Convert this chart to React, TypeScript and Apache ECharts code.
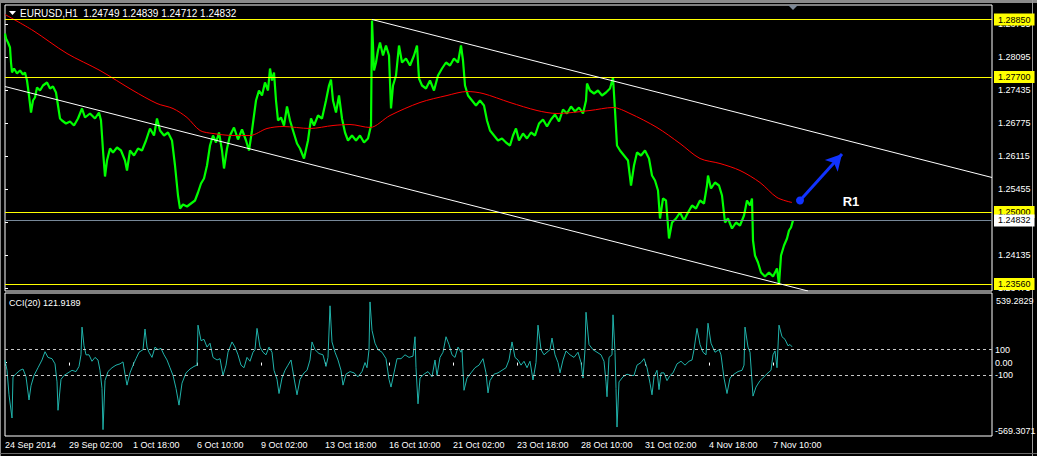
import React, { useEffect, useRef } from "react";
import * as echarts from "echarts";

// ---------- texts ----------
const symbolTitle = "EURUSD,H1  1.24749 1.24839 1.24712 1.24832";
const cciTitle = "CCI(20) 121.9189";
const annotationText = "R1";

// ---------- axes ----------
const timeLabels = [
  "24 Sep 2014", "29 Sep 02:00", "1 Oct 18:00", "6 Oct 10:00", "9 Oct 02:00",
  "13 Oct 18:00", "16 Oct 10:00", "21 Oct 02:00", "23 Oct 18:00", "28 Oct 10:00",
  "31 Oct 02:00", "4 Nov 18:00", "7 Nov 10:00",
];
const barsPerLabel = 64;
const lastBar = 987;
const priceMin = 1.2342;
const priceMax = 1.2914;
const priceTicks = [1.28755, 1.28095, 1.27435, 1.26775, 1.26115, 1.25455, 1.24795, 1.24135, 1.23475];
const levelLines = [1.2885, 1.277, 1.25, 1.2356];
const bidPrice = 1.24832;
const cciMax = 539.2829;
const cciMin = -569.3071;
const cciTicks = [100, 0, -100];
const cciLevels = [100, -100];

// ---------- price (bar index, price) ----------
const pricePath: [number, number][] = [
  [0, 1.2857], [1, 1.2847], [3, 1.2839], [5, 1.2829], [6, 1.2799], [7, 1.2779], [9, 1.2787], [12, 1.2777],
  [15, 1.2783], [18, 1.2775], [20, 1.2779], [22, 1.2763], [24, 1.2733], [26, 1.2699], [28, 1.2723], [30, 1.2729],
  [32, 1.2749], [35, 1.2743], [38, 1.2753], [42, 1.2759], [45, 1.2747], [48, 1.2751], [51, 1.2739], [53, 1.2713],
  [55, 1.2687], [57, 1.2683], [61, 1.2677], [65, 1.2681], [69, 1.2673], [73, 1.2687], [77, 1.2707], [80, 1.2689],
  [85, 1.2697], [90, 1.2687], [94, 1.2699], [96, 1.2683], [98, 1.2623], [100, 1.2571], [102, 1.2603], [105, 1.2627],
  [108, 1.2619], [112, 1.2629], [116, 1.2623], [120, 1.2603], [122, 1.2583], [125, 1.2623], [129, 1.2613], [133, 1.2627],
  [137, 1.2623], [141, 1.2643], [145, 1.2667], [149, 1.2653], [152, 1.2687], [155, 1.2663], [159, 1.2653], [163, 1.2659],
  [167, 1.2643], [170, 1.2593], [173, 1.2533], [175, 1.2507], [178, 1.2515], [182, 1.2511], [186, 1.2517], [190, 1.2523],
  [193, 1.2539], [196, 1.2557], [199, 1.2567], [202, 1.2593], [205, 1.2633], [208, 1.2653], [211, 1.2639], [214, 1.2659],
  [217, 1.2623], [219, 1.2587], [222, 1.2627], [225, 1.2653], [229, 1.2669], [233, 1.2645], [237, 1.2665], [241, 1.2643],
  [244, 1.2623], [247, 1.2663], [251, 1.2723], [254, 1.2743], [257, 1.2733], [260, 1.2759], [263, 1.2743], [265, 1.2787],
  [267, 1.2763], [269, 1.2779], [271, 1.2723], [273, 1.2683], [276, 1.2689], [279, 1.2673], [282, 1.2711], [285, 1.2683],
  [288, 1.2663], [292, 1.2637], [295, 1.2627], [299, 1.2607], [303, 1.2643], [306, 1.2687], [309, 1.2673], [313, 1.2693],
  [317, 1.2687], [321, 1.2723], [324, 1.2753], [326, 1.2765], [328, 1.2723], [331, 1.2699], [334, 1.2733], [337, 1.2687],
  [340, 1.2659], [343, 1.2643], [347, 1.2653], [351, 1.2643], [355, 1.2653], [359, 1.2639], [363, 1.2647], [366, 1.2673],
  [367, 1.2883], [369, 1.2783], [371, 1.2799], [373, 1.2823], [375, 1.2839], [378, 1.2813], [381, 1.2833], [384, 1.2813],
  [386, 1.2707], [388, 1.2753], [391, 1.2773], [394, 1.2833], [397, 1.2799], [401, 1.2807], [405, 1.2793], [409, 1.2813],
  [412, 1.2833], [414, 1.2767], [417, 1.2753], [421, 1.2747], [425, 1.2763], [429, 1.2743], [433, 1.2773], [437, 1.2787],
  [441, 1.2799], [445, 1.2793], [449, 1.2807], [453, 1.2799], [456, 1.2833], [458, 1.2803], [460, 1.2753], [463, 1.2733],
  [467, 1.2723], [471, 1.2713], [475, 1.2723], [479, 1.2713], [482, 1.2683], [485, 1.2663], [489, 1.2653], [493, 1.2643],
  [497, 1.2647], [501, 1.2639], [505, 1.2633], [508, 1.2653], [511, 1.2667], [514, 1.2643], [518, 1.2657], [522, 1.2647],
  [526, 1.2659], [530, 1.2653], [534, 1.2677], [538, 1.2685], [542, 1.2671], [546, 1.2685], [550, 1.2695], [554, 1.2681],
  [558, 1.2705], [562, 1.2697], [566, 1.2711], [570, 1.2701], [574, 1.2709], [578, 1.2697], [581, 1.2723], [582, 1.2757],
  [585, 1.2743], [589, 1.2737], [593, 1.2743], [597, 1.2733], [601, 1.2739], [605, 1.2747], [608, 1.2769], [610, 1.2703],
  [612, 1.2633], [615, 1.2623], [619, 1.2613], [623, 1.2603], [626, 1.2553], [629, 1.2593], [632, 1.2619], [636, 1.2613],
  [640, 1.2623], [644, 1.2607], [647, 1.2573], [650, 1.2563], [653, 1.2543], [655, 1.2487], [658, 1.2527], [661, 1.2523],
  [664, 1.2447], [667, 1.2479], [671, 1.2487], [675, 1.2499], [679, 1.2483], [683, 1.2499], [687, 1.2513], [691, 1.2507],
  [695, 1.2523], [699, 1.2517], [702, 1.2553], [703, 1.2573], [706, 1.2547], [710, 1.2559], [714, 1.2553], [717, 1.2533],
  [720, 1.2479], [723, 1.2487], [727, 1.2467], [731, 1.2479], [735, 1.2473], [739, 1.2493], [742, 1.2523], [745, 1.2513],
  [747, 1.2527], [748, 1.2443], [750, 1.2413], [753, 1.2399], [756, 1.2379], [760, 1.2371], [764, 1.2379], [768, 1.2371],
  [772, 1.2387], [774, 1.2355], [776, 1.2413], [779, 1.2433], [782, 1.2447], [784, 1.2463], [786, 1.2469], [788, 1.24832],
];

// ---------- moving average (bar index, price) ----------
const maPath: [number, number][] = [
  [0, 1.2895], [28, 1.2863], [62, 1.2817], [95, 1.2783], [128, 1.2743], [152, 1.2717], [168, 1.2707], [182, 1.2689],
  [195, 1.2663], [208, 1.2657], [228, 1.2653], [245, 1.2653], [262, 1.2667], [278, 1.2671], [305, 1.2667], [328, 1.2673],
  [345, 1.2675], [365, 1.2669], [385, 1.2693], [415, 1.2719], [442, 1.2733], [462, 1.2741], [478, 1.2737], [505, 1.2719],
  [532, 1.2703], [552, 1.2697], [585, 1.2703], [608, 1.2709], [625, 1.2697], [652, 1.2669], [675, 1.2637], [695, 1.2607],
  [715, 1.2597], [735, 1.2583], [755, 1.2559], [772, 1.2529], [787, 1.2519],
];

// ---------- trend channel & arrow anchors (bar index, price) ----------
const upperTrend: [number, number][] = [[367, 1.2885], [987, 1.2569]];
const lowerTrend: [number, number][] = [[0, 1.2751], [803, 1.2342]];
const arrowStart: [number, number] = [795, 1.2523];
const arrowEnd: [number, number] = [837, 1.2616];
const annotationAnchor: [number, number] = [846, 1.2521];

// ---------- CCI (bar index, value) ----------
const cciPath: [number, number][] = [
  [0, 20], [2, -60], [4, -250], [7, -430], [8, -110], [12, -80], [15, -60], [18, -50], [21, -110], [24, -290],
  [26, -180], [29, -100], [33, -40], [37, 20], [40, 84], [43, 40], [47, 30], [50, -10], [52, -150], [53, -370],
  [56, -130], [59, -100], [63, -80], [67, -60], [71, -70], [74, -30], [76, 60], [77, 275], [79, 130], [81, 60],
  [84, 60], [87, 10], [90, 40], [93, 20], [95, -60], [97, -200], [98, -520], [100, -140], [103, -70], [107, -40],
  [111, -20], [115, -10], [118, 5], [120, -90], [122, -175], [125, -80], [128, -20], [131, 30], [134, 80], [138, 100],
  [140, 260], [142, 120], [144, 80], [147, 40], [150, 120], [153, 100], [156, 110], [159, 60], [162, 20], [165, -40],
  [168, -100], [171, -200], [174, -330], [177, -160], [181, -80], [185, -50], [189, -30], [192, -20], [193, 290], [196, 170],
  [199, 180], [202, 120], [205, 150], [208, 40], [212, 20], [215, 30], [218, -100], [221, -20], [223, 80], [227, 160],
  [230, 120], [233, 60], [236, -20], [239, -40], [242, 40], [245, 10], [248, 80], [250, 100], [252, 265], [255, 120],
  [258, 80], [261, 60], [264, 120], [267, 80], [269, -60], [272, -130], [274, -240], [277, -120], [280, -60], [283, -20],
  [286, 20], [289, -120], [292, -250], [295, -130], [299, -80], [302, -60], [305, 20], [307, 160], [310, 100], [314, 70],
  [318, 60], [321, -30], [323, 40], [325, 440], [327, 160], [330, 80], [333, 20], [336, -60], [338, -175], [341, -90],
  [345, -70], [349, -80], [353, -110], [357, -70], [360, 0], [362, -40], [364, 100], [365, 470], [367, 250], [370, 150],
  [373, 100], [377, 80], [381, 30], [384, -130], [386, -190], [389, -80], [392, 30], [396, 30], [400, 60], [404, 40],
  [408, 50], [410, 200], [411, -40], [413, -320], [415, -120], [419, -90], [423, -70], [427, -110], [430, 20], [432, -100],
  [435, 40], [438, 80], [441, 200], [444, 140], [447, 60], [450, 40], [453, 120], [456, 80], [457, 100], [459, -215],
  [462, -120], [466, -80], [470, -40], [474, -20], [478, 30], [481, -80], [483, -235], [485, -140], [489, -90], [493, -80],
  [497, -60], [501, -40], [504, 20], [507, 160], [510, 40], [513, 20], [516, -20], [519, 10], [522, -40], [525, 10],
  [528, -135], [531, 0], [533, 290], [536, 100], [539, 60], [542, 80], [545, 100], [547, 190], [550, 60], [553, 0],
  [555, -80], [558, 20], [561, 90], [565, 60], [569, 40], [573, 80], [576, 0], [578, -120], [580, 100], [581, 390],
  [584, 140], [588, 100], [592, 80], [596, 60], [599, 10], [601, -150], [602, -265], [604, 40], [607, 60], [608, 370],
  [610, 80], [611, -200], [612, -500], [614, -150], [618, -110], [622, -90], [626, -100], [629, -100], [632, -20], [636, 0],
  [639, 30], [642, -40], [645, -160], [647, -250], [649, -110], [652, -60], [654, -210], [656, -80], [659, -80], [662, -140],
  [665, -100], [668, -80], [672, -10], [676, 10], [680, -20], [684, 10], [687, 20], [689, 100], [692, 265], [695, 140],
  [698, 80], [701, 60], [703, 305], [706, 150], [710, 80], [714, 100], [716, 60], [719, -120], [722, -240], [725, -120],
  [729, -90], [733, -70], [737, -60], [739, -20], [740, 275], [743, 120], [745, 80], [748, -260], [751, -190], [755, -140],
  [759, -110], [763, -80], [766, -60], [768, 60], [770, 90], [772, -40], [774, 290], [777, 200], [780, 180], [783, 130],
  [785, 140], [787, 122],
];

const FONT = '"Liberation Sans", Arial, sans-serif';
const TXT = "#ffffff";

export default function App() {
  const ref = useRef<HTMLDivElement>(null);

  useEffect(() => {
    if (!ref.current) return;
    const chart = echarts.init(ref.current, null, { renderer: "svg" });
    const tickBars = timeLabels.map((_, i) => i * barsPerLabel);

    const levelLabel = (bg: string) => ({
      show: true,
      position: "end",
      distance: 2,
      formatter: (p: any) => Number(p.value).toFixed(5),
      backgroundColor: bg,
      color: "#000",
      fontSize: 9,
      fontFamily: FONT,
      padding: [2, 4, 1, 4],
    });

    const option: any = {
      animation: false,
      backgroundColor: "#000000",
      grid: [
        { left: 5, right: 45, top: 5, height: 286, show: true, borderColor: "#ffffff", borderWidth: 1 },
        { left: 5, right: 45, top: 293, height: 143, show: true, borderColor: "#ffffff", borderWidth: 1 },
      ],
      xAxis: [
        { type: "value", gridIndex: 0, min: 0, max: lastBar, show: false },
        {
          type: "value",
          gridIndex: 1,
          min: 0,
          max: lastBar,
          axisLine: { show: false },
          splitLine: { show: false },
          axisTick: { show: true, customValues: tickBars, length: 3, lineStyle: { color: TXT } },
          axisLabel: {
            customValues: tickBars,
            formatter: (v: number) => timeLabels[Math.round(v / barsPerLabel)] ?? "",
            align: "left",
            color: TXT,
            fontSize: 9,
            fontFamily: FONT,
            margin: 4,
          },
        },
      ],
      yAxis: [
        {
          type: "value",
          gridIndex: 0,
          position: "right",
          min: priceMin,
          max: priceMax,
          axisLine: { show: false },
          splitLine: { show: false },
          axisTick: { show: true, customValues: priceTicks, length: 3, lineStyle: { color: TXT } },
          axisLabel: {
            customValues: priceTicks,
            formatter: (v: number) => v.toFixed(5),
            color: TXT,
            fontSize: 9,
            fontFamily: FONT,
            margin: 6,
          },
        },
        {
          type: "value",
          gridIndex: 1,
          position: "right",
          min: cciMin,
          max: cciMax,
          axisLine: { show: false },
          splitLine: { show: false },
          axisTick: { show: true, customValues: cciTicks, length: 2, lineStyle: { color: TXT } },
          axisLabel: {
            customValues: cciTicks,
            formatter: (v: number) => (v === 0 ? "0.00" : String(v)),
            color: TXT,
            fontSize: 9,
            fontFamily: FONT,
            margin: 3,
          },
        },
      ],
      series: [
        {
          name: "EURUSD",
          type: "line",
          xAxisIndex: 0,
          yAxisIndex: 0,
          data: pricePath,
          showSymbol: false,
          lineStyle: { color: "#00ff00", width: 2.2 },
          z: 3,
          markLine: {
            silent: true,
            symbol: ["none", "none"],
            animation: false,
            precision: 5,
            data: [
              ...levelLines.map((l) => ({
                yAxis: l,
                lineStyle: { color: "#ffff00", width: 1, type: "solid" },
                label: levelLabel("#ffff00"),
              })),
              {
                yAxis: bidPrice,
                lineStyle: { color: "#778899", width: 1, type: "solid" },
                label: levelLabel("#ffffff"),
              },
            ],
          },
        },
        {
          name: "MA",
          type: "line",
          xAxisIndex: 0,
          yAxisIndex: 0,
          data: maPath,
          smooth: 0.3,
          showSymbol: false,
          lineStyle: { color: "#ff0000", width: 1 },
          z: 4,
        },
        {
          name: "Upper",
          type: "line",
          xAxisIndex: 0,
          yAxisIndex: 0,
          data: upperTrend,
          showSymbol: false,
          lineStyle: { color: "#ffffff", width: 1 },
          z: 5,
          markLine: {
            silent: true,
            animation: false,
            precision: 5,
            label: { show: false },
            lineStyle: { color: "#1133ff", width: 3, type: "solid" },
            data: [
              [
                { coord: arrowStart, symbol: "circle", symbolSize: 8 },
                { coord: arrowEnd, symbol: "arrow", symbolSize: [13, 16] },
              ],
            ],
          },
          markPoint: {
            silent: true,
            animation: false,
            symbol: "circle",
            symbolSize: 1,
            itemStyle: { color: "transparent" },
            label: {
              show: true,
              formatter: annotationText,
              color: "#ffffff",
              fontSize: 13,
              fontWeight: "bold",
              fontFamily: FONT,
              position: "inside",
            },
            data: [{ coord: annotationAnchor }],
          },
        },
        {
          name: "Lower",
          type: "line",
          xAxisIndex: 0,
          yAxisIndex: 0,
          data: lowerTrend,
          showSymbol: false,
          lineStyle: { color: "#ffffff", width: 1 },
          z: 5,
        },
        {
          name: "CCI",
          type: "line",
          xAxisIndex: 1,
          yAxisIndex: 1,
          data: cciPath,
          showSymbol: false,
          lineStyle: { color: "#20b2aa", width: 1 },
          z: 3,
          markLine: {
            silent: true,
            symbol: ["none", "none"],
            animation: false,
            label: { show: false },
            lineStyle: { color: "#c8c8c8", width: 1, type: [3, 3] },
            data: cciLevels.map((v) => ({ yAxis: v })),
          },
        },
      ],
      graphic: [
        { type: "rect", shape: { x: 0, y: 0, width: 1037, height: 3 }, style: { fill: "#8a8a8a" }, silent: true },
        { type: "rect", shape: { x: 0, y: 0, width: 1, height: 456 }, style: { fill: "#8a8a8a" }, silent: true },
        { type: "rect", shape: { x: 1032, y: 0, width: 1, height: 456 }, style: { fill: "#9a9a9a" }, silent: true },
        { type: "rect", shape: { x: 0, y: 453, width: 1037, height: 1 }, style: { fill: "#6a6a6a" }, silent: true },
        {
          type: "polygon",
          shape: { points: [[788, 5], [798, 5], [793, 10]] },
          style: { fill: "#7d8896" },
          silent: true,
        },
        {
          type: "polygon",
          shape: { points: [[9, 11], [16, 11], [12.5, 15]] },
          style: { fill: "#ffffff" },
          silent: true,
        },
        {
          type: "text",
          x: 20,
          y: 13,
          style: { text: symbolTitle, fill: TXT, fontSize: 10, fontFamily: FONT, verticalAlign: "middle", align: "left" },
          silent: true,
        },
        {
          type: "text",
          x: 9,
          y: 303,
          style: { text: cciTitle, fill: TXT, fontSize: 9, fontFamily: FONT, verticalAlign: "middle", align: "left" },
          silent: true,
        },
        {
          type: "text",
          x: 996,
          y: 301,
          style: { text: cciMax.toFixed(4), fill: TXT, fontSize: 9, fontFamily: FONT, verticalAlign: "middle", align: "left" },
          silent: true,
        },
        {
          type: "text",
          x: 995,
          y: 431,
          style: { text: cciMin.toFixed(4), fill: TXT, fontSize: 9, fontFamily: FONT, verticalAlign: "middle", align: "left" },
          silent: true,
        },
      ],
    };

    chart.setOption(option);
    return () => chart.dispose();
  }, []);

  return (
    <div
      ref={ref}
      style={{ position: "absolute", left: 0, top: 0, width: 1037, height: 456, background: "#000" }}
    />
  );
}
